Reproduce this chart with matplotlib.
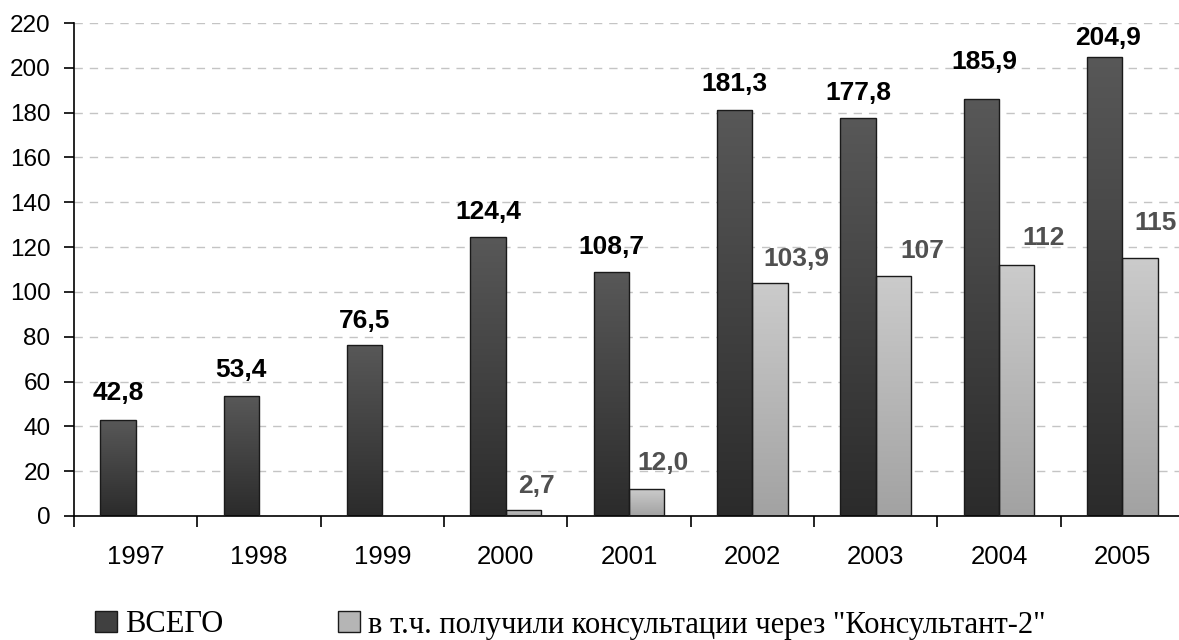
import numpy as np
import matplotlib
matplotlib.use("Agg")
import matplotlib.pyplot as plt
from matplotlib.patches import Patch
from matplotlib.colors import LinearSegmentedColormap

# ---- data ----
years = ["1997", "1998", "1999", "2000", "2001", "2002", "2003", "2004", "2005"]
total = [42.8, 53.4, 76.5, 124.4, 108.7, 181.3, 177.8, 185.9, 204.9]
consult = [np.nan, np.nan, np.nan, 2.7, 12.0, 103.9, 107, 112, 115]
total_labels = ["42,8", "53,4", "76,5", "124,4", "108,7", "181,3", "177,8", "185,9", "204,9"]
consult_labels = ["", "", "", "2,7", "12,0", "103,9", "107", "112", "115"]
legend_labels = ["ВСЕГО", 'в т.ч. получили консультации через "Консультант-2"']

# ---- label placement (style, px offsets) ----
tot_dx = [0, 0, 0, 0, 0, 0, 0, 3, 3]
tot_dy = [20, 19, 17, 18, 18, 19, 18, 30, 12]
con_dx = [0, 0, 0, 13, 16, 26, 29, 27, 16]
con_dy = [0, 0, 0, 17, 19, 17, 18, 20, 28]

W, H, DPI = 1179, 640, 100
fig = plt.figure(figsize=(W / DPI, H / DPI), dpi=DPI)
ax = fig.add_axes([74 / W, 1 - 516 / H, (1184 - 74) / W, (516 - 23) / H])

dark_cmap = LinearSegmentedColormap.from_list("d", ["#2b2b2b", "#585858"])
light_cmap = LinearSegmentedColormap.from_list("l", ["#a2a2a2", "#cbcbcb"])
grad = np.linspace(0, 1, 256).reshape(-1, 1)

bw = 0.286
x = np.arange(len(years))


def draw_bars(xpos, vals, cmap):
    bars = ax.bar(xpos, vals, width=bw, color="none", edgecolor="#1a1a1a",
                  linewidth=1.0, zorder=3)
    for b in bars:
        h = b.get_height()
        if not np.isfinite(h) or h <= 0:
            continue
        x0 = b.get_x()
        im = ax.imshow(grad, cmap=cmap, origin="lower", aspect="auto",
                       extent=(x0, x0 + b.get_width(), 0, h), zorder=2.5,
                       interpolation="bilinear")
        im.set_clip_path(b)
    return bars


draw_bars(x - bw / 2, total, dark_cmap)
draw_bars(x + bw / 2, consult, light_cmap)
ax.set_xlim(-0.5, len(years) - 0.5)
ax.set_ylim(0, 220)

px = 72 / DPI
lab_font = dict(family="Liberation Sans", fontsize=19, fontweight="bold")
for i in range(len(years)):
    ax.annotate(total_labels[i], (x[i] - bw / 2, total[i]),
                xytext=(tot_dx[i] * px, tot_dy[i] * px), textcoords="offset points",
                ha="center", va="baseline", color="#000000", zorder=5,
                annotation_clip=False, **lab_font)
    if consult_labels[i]:
        ax.annotate(consult_labels[i], (x[i] + bw / 2, consult[i]),
                    xytext=(con_dx[i] * px, con_dy[i] * px), textcoords="offset points",
                    ha="center", va="baseline", color="#505050", zorder=5,
                    annotation_clip=False, **lab_font)

# grid
ax.set_yticks(np.arange(0, 221, 20))
ax.yaxis.grid(True, color="#c4c4c4", linewidth=1.0, linestyle=(0, (6, 5)), zorder=0)
ax.set_axisbelow(True)

for s in ["top", "right"]:
    ax.spines[s].set_visible(False)
ax.spines["left"].set_linewidth(1.2)
ax.spines["bottom"].set_linewidth(1.2)

ax.set_xticks(x)
ax.set_xticklabels(years, family="Liberation Sans", fontsize=18.5)
ax.set_xticks(np.arange(-0.5, len(years), 1.0), minor=True)
ax.tick_params(axis="x", which="major", length=0, pad=21)
ax.tick_params(axis="x", which="minor", length=8, width=1.2, direction="out")
ax.tick_params(axis="y", length=7, width=1.2, direction="out", pad=10)
for t in ax.get_yticklabels():
    t.set_family("Liberation Sans")
    t.set_fontsize(17.5)

handles = [Patch(facecolor="#404040", edgecolor="#1a1a1a", linewidth=1.0),
           Patch(facecolor="#b5b5b5", edgecolor="#1a1a1a", linewidth=1.0)]
fig.legend(handles, legend_labels, loc="center left",
           bbox_to_anchor=(95 / W, 1 - 625 / H), ncol=2, frameon=False,
           prop=dict(family="Liberation Serif", size=22),
           handlelength=0.72, handleheight=0.66, handletextpad=0.27,
           columnspacing=3.75, borderpad=0, borderaxespad=0)

fig.savefig("out.png", dpi=DPI)
